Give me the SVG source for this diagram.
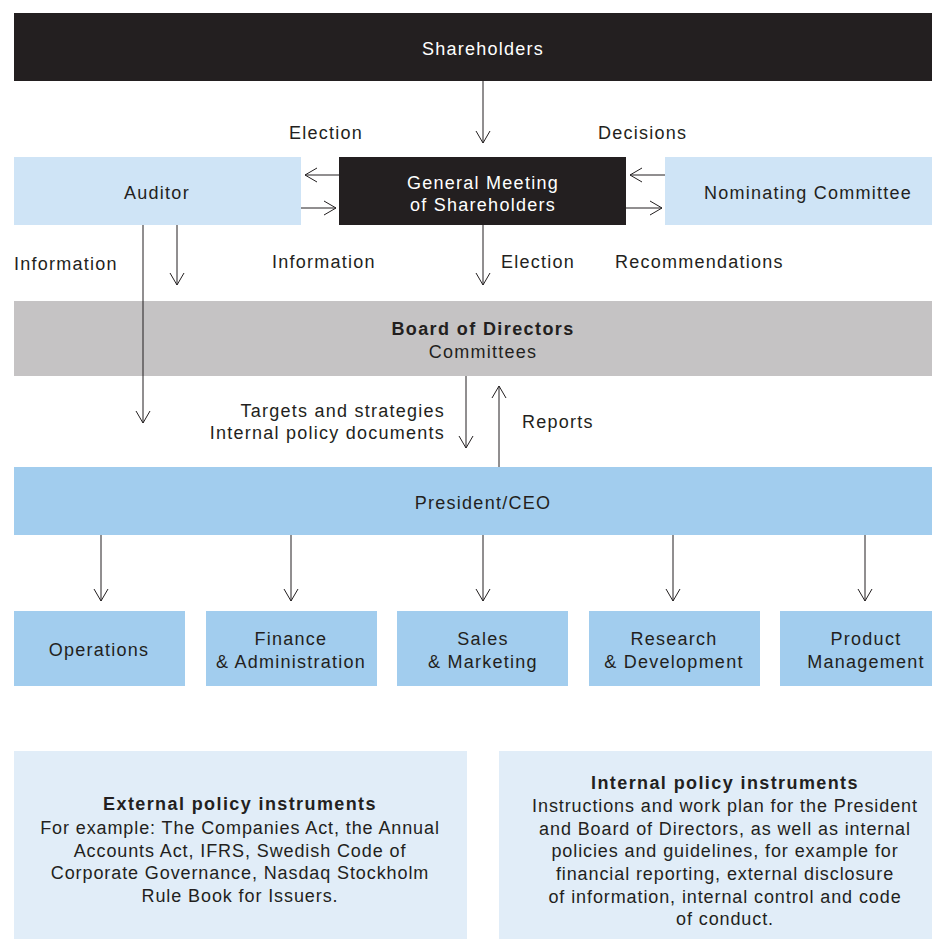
<svg xmlns="http://www.w3.org/2000/svg" width="932" height="939" viewBox="0 0 932 939">
<defs>
<style>
text{font-family:"Liberation Sans",Arial,sans-serif;font-size:18px;fill:#231f20;letter-spacing:1.25px}
.w{fill:#ffffff}
.c{text-anchor:middle}
.r{text-anchor:end}
.b{font-weight:bold;letter-spacing:1.4px}
.p{letter-spacing:0.9px}
.dark{fill:#231f20}
.lb{fill:#cfe4f6}
.gr{fill:#c5c3c4}
.bl{fill:#a2cdee}
.pl{fill:#e1edf8}
.ln{stroke:#231f20;stroke-width:1;fill:none}
</style>
<marker id="ah" viewBox="0 0 14 16" refX="13" refY="8" markerWidth="14" markerHeight="16" markerUnits="userSpaceOnUse" orient="auto">
<path d="M1,1 L13,8 L1,15" fill="none" stroke="#231f20" stroke-width="1"/>
</marker>
</defs>
<rect width="932" height="939" fill="#ffffff"/>

<g id="shareholders"><rect class="dark" x="14" y="13" width="918" height="68"/><text class="c w" x="483" y="55">Shareholders</text></g>
<g id="auditor"><rect class="lb" x="14" y="157" width="287" height="68"/><text class="c" x="157" y="199">Auditor</text></g>
<g id="gm"><rect class="dark" x="339" y="157" width="287" height="68"/><text class="c w" x="483" y="189">General Meeting</text><text class="c w" x="483" y="211">of Shareholders</text></g>
<g id="nominating"><rect class="lb" x="665" y="157" width="267" height="68"/><text class="c" x="808" y="199">Nominating Committee</text></g>
<g id="board"><rect class="gr" x="14" y="301" width="918" height="75"/><text class="c b" x="483" y="335">Board of Directors</text><text class="c" x="483" y="358">Committees</text></g>
<g id="president"><rect class="bl" x="14" y="467" width="918" height="68"/><text class="c" x="483" y="509">President/CEO</text></g>
<g id="operations"><rect class="bl" x="14" y="611" width="171" height="75"/><text class="c" x="99" y="656">Operations</text></g>
<g id="finance"><rect class="bl" x="206" y="611" width="171" height="75"/><text class="c" x="291" y="645">Finance</text><text class="c" x="291" y="668">&amp; Administration</text></g>
<g id="sales"><rect class="bl" x="397" y="611" width="171" height="75"/><text class="c" x="483" y="645">Sales</text><text class="c" x="483" y="668">&amp; Marketing</text></g>
<g id="research"><rect class="bl" x="589" y="611" width="171" height="75"/><text class="c" x="674" y="645">Research</text><text class="c" x="674" y="668">&amp; Development</text></g>
<g id="product"><rect class="bl" x="780" y="611" width="152" height="75"/><text class="c" x="866" y="645">Product</text><text class="c" x="866" y="668">Management</text></g>

<g id="external"><rect class="pl" x="14" y="751" width="453" height="188"/>
<text class="c b" x="240" y="810">External policy instruments</text>
<text class="c p" x="240" y="834">For example: The Companies Act, the Annual</text>
<text class="c p" x="240" y="857">Accounts Act, IFRS, Swedish Code of</text>
<text class="c p" x="240" y="879">Corporate Governance, Nasdaq Stockholm</text>
<text class="c p" x="240" y="902">Rule Book for Issuers.</text></g>
<g id="internal"><rect class="pl" x="499" y="751" width="433" height="188"/>
<text class="c b" x="725" y="789">Internal policy instruments</text>
<text class="c p" x="725" y="812">Instructions and work plan for the President</text>
<text class="c p" x="725" y="835">and Board of Directors, as well as internal</text>
<text class="c p" x="725" y="857">policies and guidelines, for example for</text>
<text class="c p" x="725" y="880">financial reporting, external disclosure</text>
<text class="c p" x="725" y="903">of information, internal control and code</text>
<text class="c p" x="725" y="925">of conduct.</text></g>

<g id="connectors">
<line class="ln" x1="483" y1="81" x2="483" y2="143" marker-end="url(#ah)"/>
<line class="ln" x1="339" y1="175" x2="305" y2="175" marker-end="url(#ah)"/>
<line class="ln" x1="301" y1="208" x2="336" y2="208" marker-end="url(#ah)"/>
<line class="ln" x1="665" y1="175" x2="630" y2="175" marker-end="url(#ah)"/>
<line class="ln" x1="626" y1="208" x2="662" y2="208" marker-end="url(#ah)"/>
<line class="ln" x1="143" y1="225" x2="143" y2="423" marker-end="url(#ah)"/>
<line class="ln" x1="177" y1="225" x2="177" y2="285" marker-end="url(#ah)"/>
<line class="ln" x1="483" y1="225" x2="483" y2="285" marker-end="url(#ah)"/>
<line class="ln" x1="466" y1="376" x2="466" y2="448" marker-end="url(#ah)"/>
<line class="ln" x1="499" y1="467" x2="499" y2="386" marker-end="url(#ah)"/>
<line class="ln" x1="101" y1="535" x2="101" y2="601" marker-end="url(#ah)"/>
<line class="ln" x1="291" y1="535" x2="291" y2="601" marker-end="url(#ah)"/>
<line class="ln" x1="483" y1="535" x2="483" y2="601" marker-end="url(#ah)"/>
<line class="ln" x1="673" y1="535" x2="673" y2="601" marker-end="url(#ah)"/>
<line class="ln" x1="865" y1="535" x2="865" y2="601" marker-end="url(#ah)"/>
<text x="289" y="139">Election</text>
<text x="598" y="139">Decisions</text>
<text x="14" y="270">Information</text>
<text x="272" y="268">Information</text>
<text x="501" y="268">Election</text>
<text x="615" y="268">Recommendations</text>
<text class="r" x="445" y="417">Targets and strategies</text>
<text class="r" x="445" y="439">Internal policy documents</text>
<text x="522" y="428">Reports</text>
</g>
</svg>
